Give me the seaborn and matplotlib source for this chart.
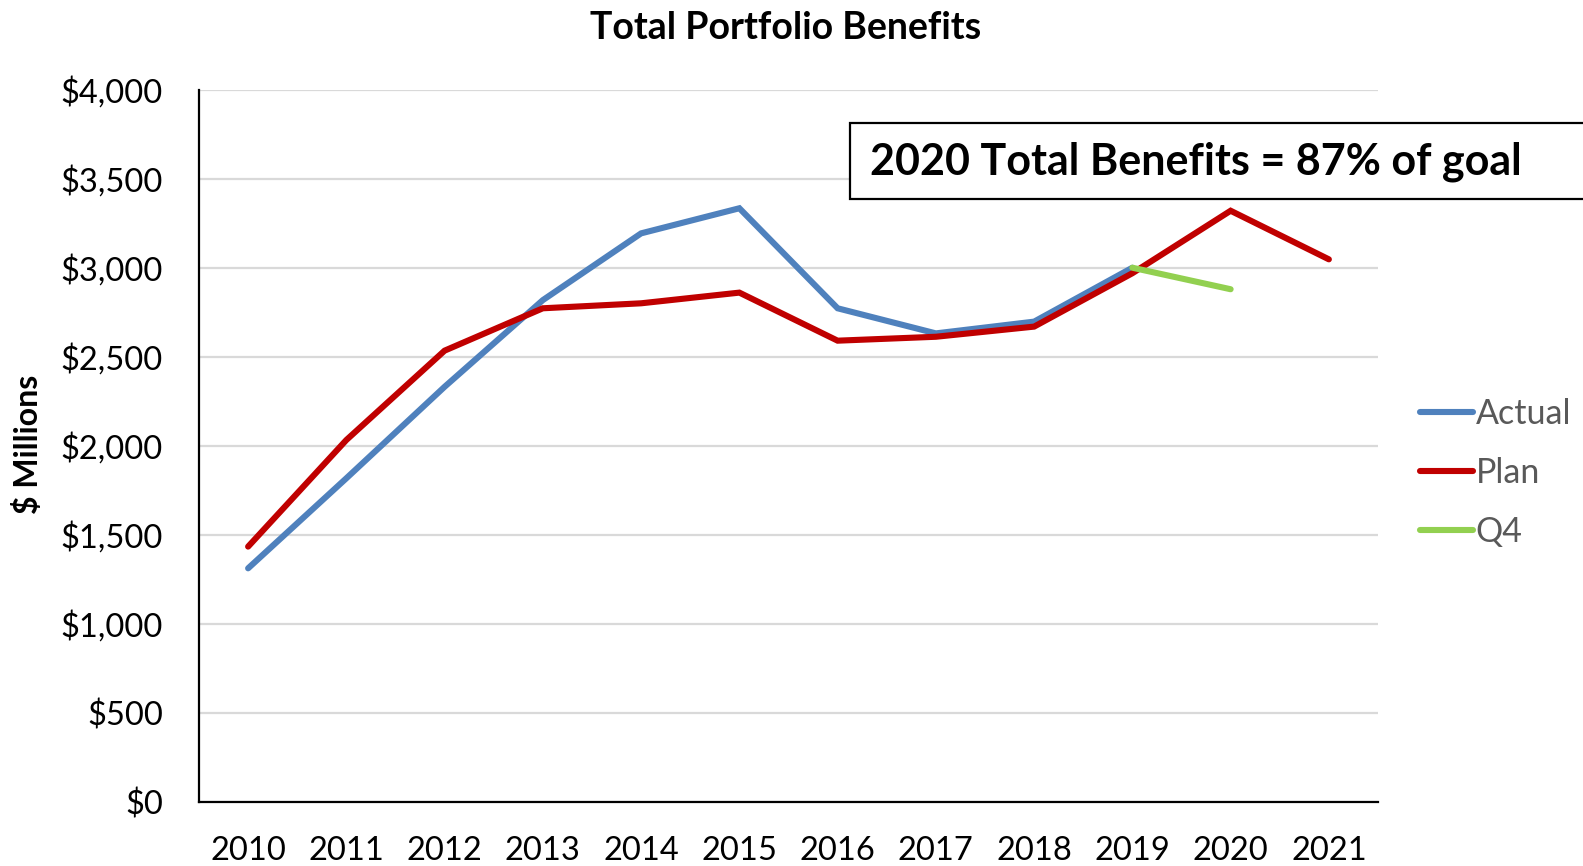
"""Total portfolio benefits: actual vs plan, with the Q4 projection"""

import numpy as np
import pandas as pd
import matplotlib
matplotlib.use("Agg")
import matplotlib.pyplot as plt
from matplotlib.ticker import FuncFormatter
from matplotlib.patches import Rectangle
import seaborn as sns

# values ($ millions)
years = list(range(2010, 2022))
actual_years = list(range(2010, 2020))
actual = [1311, 1817, 2331, 2818, 3193, 3334, 2772, 2631, 2697, 3000]
plan = [1433, 2032, 2534, 2772, 2800, 2860, 2590, 2612, 2669, 2969, 3320, 3047]
q4_years = [2019, 2020]
q4 = [3000, 2879]

series_names = ["Actual", "Plan", "Q4"]
palette = {"Actual": "#4F81BD", "Plan": "#C00000", "Q4": "#92D050"}

# long-form table for seaborn
df = pd.concat([
    pd.DataFrame({"Year": actual_years, "Value": actual, "Series": "Actual"}),
    pd.DataFrame({"Year": years, "Value": plan, "Series": "Plan"}),
    pd.DataFrame({"Year": q4_years, "Value": q4, "Series": "Q4"}),
], ignore_index=True)

sns.set_theme(style="white")
plt.rcParams["font.family"] = ["Lato", "DejaVu Sans"]
plt.rcParams["text.color"] = "black"

fig = plt.figure(figsize=(15.83, 8.66), dpi=100)
ax = fig.add_axes([0.1257, 0.0743, 0.8705 - 0.1257, 0.8964 - 0.0743])

sns.lineplot(data=df, x="Year", y="Value", hue="Series", hue_order=series_names,
             palette=palette, linewidth=4.4, ax=ax, legend=False,
             solid_capstyle="round", solid_joinstyle="miter")

ax.set_xlim(2009.5, 2021.5)
ax.set_ylim(0, 4000)
ax.set_xticks(years)
ax.set_xticklabels([str(y) for y in years])
ax.set_yticks(np.arange(0, 4001, 500))
ax.yaxis.set_major_formatter(FuncFormatter(lambda v, p: f"${v:,.0f}"))
ax.tick_params(axis="both", length=0, labelsize=23.5, colors="black")
ax.tick_params(axis="x", pad=25)
ax.tick_params(axis="y", pad=26)

ax.grid(axis="y", color="#D9D9D9", linewidth=1.6)
ax.set_axisbelow(True)
for side in ["top", "right"]:
    ax.spines[side].set_visible(False)
ax.spines["left"].set_color("black")
ax.spines["left"].set_linewidth(1.6)
ax.spines["bottom"].set_color("black")
ax.spines["bottom"].set_linewidth(1.6)

ax.set_xlabel("")
ax.set_ylabel("")
fig.text(0.018, 0.487, "$ Millions", rotation=90, fontsize=23, fontweight="bold",
         ha="center", va="center", color="black")
fig.text(0.496, 0.968, "Total Portfolio Benefits", fontsize=27, fontweight="bold",
         ha="center", va="center", color="black")

# boxed callout, running past the right edge like the original
fig.patches.append(Rectangle((850 / 1583, 1 - 199 / 866), 0.5, 76 / 866,
                             transform=fig.transFigure, facecolor="white",
                             edgecolor="black", linewidth=1.6, zorder=5))
fig.text(870 / 1583, 1 - 162 / 866, "2020 Total Benefits = 87% of goal",
         fontsize=31, fontweight="bold", ha="left", va="center", zorder=6,
         color="black")

# legend on the right
handles = [plt.Line2D([], [], color=palette[n], linewidth=4.4, solid_capstyle="round")
           for n in series_names]
leg = fig.legend(handles, series_names, loc="center left",
                 bbox_to_anchor=(1406 / 1583, 1 - 473 / 866), frameon=False,
                 fontsize=24.5, handlelength=1.57, handletextpad=0.08,
                 labelspacing=0.8, borderaxespad=0)
for t in leg.get_texts():
    t.set_color("#595959")

fig.savefig("out.png", dpi=100)
